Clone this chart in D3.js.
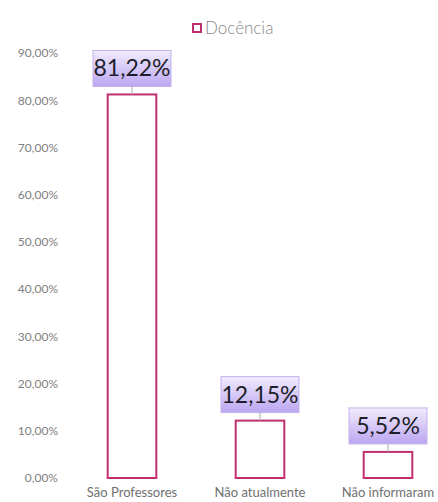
<!DOCTYPE html>
<html>
<head>
<meta charset="utf-8">
<script src="https://cdn.jsdelivr.net/npm/d3@7"></script>
<style>
  body { margin: 0; background: #fff; }
  text { font-family: Lato, "Open Sans", sans-serif; }
</style>
</head>
<body>
<div id="chart"></div>
<script>
// chart data
var categories = ["São Professores", "Não atualmente", "Não informaram"];
var values = [81.22, 12.15, 5.52];
var yTicks = [0, 10, 20, 30, 40, 50, 60, 70, 80, 90];
var seriesName = "Docência";

var svgWidth = 438;
var svgHeight = 502;

var svg = d3.select("#chart")
  .append("svg")
  .attr("width", svgWidth)
  .attr("height", svgHeight);

var defs = svg.append("defs");
var grad = defs.append("linearGradient")
  .attr("id", "lblGrad")
  .attr("x1", 0).attr("y1", 0).attr("x2", 0).attr("y2", 1);
grad.append("stop").attr("offset", "0%").attr("stop-color", "#f1ecfd");
grad.append("stop").attr("offset", "100%").attr("stop-color", "#bba6f1");

var fmt = function (v) { return v.toFixed(2).replace(".", ",") + "%"; };

// scales
var yScale = d3.scaleLinear()
  .domain([0, 90])
  .range([478, 53]);

var xScale = d3.scaleBand()
  .domain(categories)
  .range([68, 452])
  .paddingInner(0.62)
  .paddingOuter(0.31);

// y axis (labels only)
var yAxis = svg.append("g")
  .attr("transform", "translate(58,0)")
  .call(d3.axisLeft(yScale).tickValues(yTicks).tickSize(0).tickPadding(0)
    .tickFormat(function (d) { return d.toFixed(2).replace(".", ",") + "%"; }));
yAxis.select(".domain").remove();
yAxis.selectAll("text")
  .attr("font-family", "Lato, 'Open Sans', sans-serif")
  .attr("font-size", 12)
  .attr("fill", "#808080");

// x axis (labels only)
var xAxis = svg.append("g")
  .attr("transform", "translate(0,485)")
  .call(d3.axisBottom(xScale).tickSize(0).tickPadding(3));
xAxis.select(".domain").remove();
xAxis.selectAll("text")
  .attr("font-family", "Lato, 'Open Sans', sans-serif")
  .attr("font-size", 13)
  .attr("fill", "#707070");

// bars
var data = categories.map(function (c, i) { return { cat: c, val: values[i] }; });

svg.selectAll(".bar")
  .data(data)
  .enter()
  .append("rect")
  .attr("class", "bar")
  .attr("x", d => xScale(d.cat))
  .attr("y", d => yScale(d.val))
  .attr("width", xScale.bandwidth())
  .attr("height", d => yScale(0) - yScale(d.val))
  .attr("fill", "#fff")
  .attr("stroke", "#c0306e")
  .attr("stroke-width", 2);

// data labels
var boxW = 78, boxH = 36, gap = 8;
var lbl = svg.selectAll(".lbl")
  .data(data)
  .enter()
  .append("g")
  .attr("class", "lbl")
  .attr("transform", d => `translate(${xScale(d.cat) + xScale.bandwidth() / 2}, ${yScale(d.val) - gap})`);

lbl.append("line")
  .attr("x1", 0).attr("x2", 0)
  .attr("y1", 0).attr("y2", gap)
  .attr("stroke", "#a8a8a8")
  .attr("stroke-width", 1);

lbl.append("rect")
  .attr("x", -boxW / 2)
  .attr("y", -boxH)
  .attr("width", boxW)
  .attr("height", boxH)
  .attr("fill", "url(#lblGrad)")
  .attr("stroke", "#c2b2ea")
  .attr("stroke-width", 1);

lbl.append("text")
  .attr("x", 0)
  .attr("y", -boxH / 2 + 8)
  .attr("text-anchor", "middle")
  .attr("font-size", 23)
  .attr("fill", "#1e1e2a")
  .text(d => fmt(d.val));

// legend
var legend = svg.append("g").attr("transform", "translate(192,23)");
legend.append("rect")
  .attr("x", 1).attr("y", 1)
  .attr("width", 8).attr("height", 8)
  .attr("fill", "#fff")
  .attr("stroke", "#c0306e")
  .attr("stroke-width", 2);
legend.append("text")
  .attr("x", 13)
  .attr("y", 11)
  .attr("font-size", 17)
  .attr("font-weight", 300)
  .attr("fill", "#888")
  .text(seriesName);
</script>
</body>
</html>
